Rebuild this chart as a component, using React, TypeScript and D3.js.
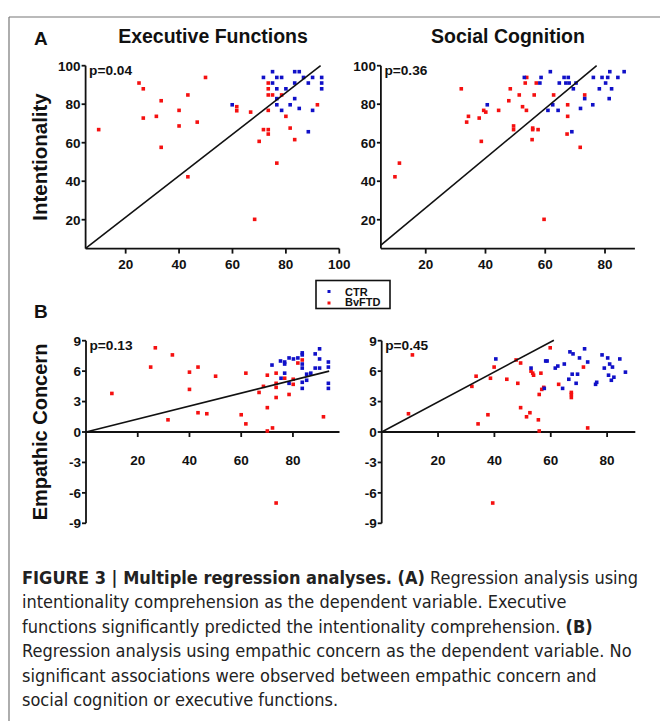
import React from "react";
import * as d3 from "d3";

type P = [number, number];

// Panel A, Executive Functions vs Intentionality
const aExecCTR: P[] = [[59.9,79.7],[71.6,93.9],[75,96.9],[75,91],[76.6,93.9],[78.4,93.9],[76.6,88],[76.6,82.9],[76.6,79.7],[78.4,76.8],[80,88],[81.6,79.7],[83.3,96.9],[85,96.9],[83.3,91],[83.3,82.9],[85,77.8],[86.6,93.9],[88.4,91],[88.4,65.7],[90,93.9],[90,76.8],[93.4,93.9],[93.4,91],[93.4,88]];
const aExecBv: P[] = [[9.9,66.8],[25,91],[26.6,88],[26.6,72.8],[31.5,73.7],[33.3,81.8],[33.3,57.6],[40,76.8],[40,68.7],[43.3,84.8],[43.3,42.3],[46.8,70.7],[49.9,93.9],[61.6,78.7],[61.6,76.6],[66.8,75.9],[68.3,20.2],[70,60.7],[71.6,66.8],[73.4,91],[73.4,88],[73.4,84.8],[73.4,76.8],[73.4,66.8],[73.4,64.5],[75,84.8],[76.6,49.4],[78.4,84.8],[80,73.7],[81.6,67.6],[83.3,61.6],[91.8,79.7]];
// Panel A, Social Cognition vs Intentionality
const aSocCTR: P[] = [[40.6,79.7],[53,93.9],[58.6,93.9],[58.2,91],[61.7,96.9],[60.9,76.8],[62.5,79.7],[64.3,76.8],[64.7,91],[66.3,93.9],[67.7,93.9],[66.9,91],[68,91],[68.9,65.7],[69.4,88],[70.3,91],[71.8,77.8],[73.2,82.9],[75.9,79.7],[76.1,93.9],[78.1,88],[79,93.9],[80.2,91],[80.9,93.9],[81.6,96.9],[81.4,82.9],[82.2,88],[84.3,93.9],[86.4,96.9]];
const aSocBv: P[] = [[9.7,42.3],[11.2,49.4],[31.9,88],[33.7,70.7],[34.3,73.7],[37.9,72.8],[38.6,60.7],[39.4,76.8],[40.1,75.9],[44.4,76.8],[47.8,81.8],[48.3,88],[49.4,68.7],[49.4,66.8],[51.3,84.8],[52.4,78.7],[53.3,91],[53.8,93.9],[53.7,76.8],[55.8,67.6],[55.8,66.8],[55.6,61.6],[56.3,84.8],[57,91],[57.6,66.8],[59.6,20.2],[62.8,84.8],[67.5,79.7],[67.5,73.7],[67.3,64.5],[71.7,57.6],[73.2,84.8]];
// Panel B, Executive Functions vs Empathic Concern
const bExecCTR: P[] = [[71.9,6.6],[75.2,7.0],[76.8,6.9],[76.8,6.7],[76.8,5.8],[75.4,5.3],[78.5,7.3],[78.5,4.8],[80.2,7.2],[81.9,7.3],[83.6,7.8],[83.6,7.6],[83.6,6.7],[83.6,6.3],[83.6,4.9],[83.6,4.3],[85.3,5.7],[85.3,5.1],[86.9,5.8],[88.6,7.7],[88.6,6.3],[90.3,8.2],[90.3,7.2],[90.3,6.3],[93.7,6.9],[93.7,6.4],[93.7,4.8],[93.7,4.3]];
const bExecBv: P[] = [[10,3.8],[25,6.4],[26.8,8.3],[31.7,1.2],[33.4,7.6],[40,5.9],[40,4.2],[43.3,6.4],[43.3,1.9],[46.7,1.8],[50.1,5.5],[60,1.7],[61.8,5.8],[61.8,0.8],[66.9,3.9],[68.6,4.5],[70.1,5.6],[70.1,2.4],[70.1,0.1],[72.1,0.4],[73.5,5.8],[73.5,4.8],[73.5,4.4],[73.5,3.4],[73.5,-7.0],[76.8,5.3],[78.5,3.7],[80.1,5.2],[80.1,4.7],[81.9,6.8],[83.6,7.1],[91.8,1.5]];
// Panel B, Social Cognition vs Empathic Concern
const bSocCTR: P[] = [[40.5,7.2],[53,6.3],[58.2,7.0],[58.7,7.0],[57.7,4.3],[61.6,6.3],[62.5,6.5],[64.8,6.7],[64.2,4.3],[66.4,5.2],[66.8,7.9],[67.9,7.7],[67.6,5.7],[69,4.8],[69.5,5.7],[70.2,7.3],[72,8.2],[73.1,6.9],[75.9,4.7],[76.3,4.9],[78.2,7.6],[79,6.3],[80.2,7.3],[80.9,6.7],[80.5,5.6],[81.5,5.1],[81.9,6.4],[82.4,5.4],[84.5,7.2],[86.5,5.9]];
const bSocBv: P[] = [[9.5,1.8],[10.9,7.6],[32,4.5],[33.5,5.5],[34.2,0.8],[37.7,1.7],[38.6,5.3],[39.9,6.4],[39.4,-7.0],[44.4,5.2],[47.7,7.1],[48.3,4.8],[49.3,6.8],[49.3,2.4],[51.4,1.5],[52.6,1.9],[53,6.0],[53.6,5.8],[53.9,5.6],[55.6,1.2],[55.9,3.7],[55.9,0.1],[56.5,5.8],[56.8,4.2],[57.5,4.4],[59.8,8.3],[62.8,4.7],[67.3,3.9],[67.3,3.7],[67.3,3.4],[71.6,6.4],[73.1,0.4]];

const fitAExec: P[] = [[5, 5.1], [93, 100]];
const fitASoc: P[] = [[5, 6.8], [77.2, 100]];
const fitBExec: P[] = [[0, 0], [94, 6.0]];
const fitBSoc: P[] = [[0, 0], [61.1, 9.05]];

const pValues = ["p=0.04", "p=0.36", "p=0.13", "p=0.45"];
const ticksAX1 = [20, 40, 60, 80, 100];
const ticksAX2 = [20, 40, 60, 80];
const ticksAY = [20, 40, 60, 80, 100];
const ticksBX = [20, 40, 60, 80];
const ticksBY = [-9, -6, -3, 0, 3, 6, 9];
const legendLabels = ["CTR", "BvFTD"];

const BLUE = "#1010c8";
const RED = "#f51010";
const FONT = "'Liberation Sans', Arial, sans-serif";

interface PanelProps {
  xs: d3.ScaleLinear<number, number>;
  ys: d3.ScaleLinear<number, number>;
  xTicks: number[];
  yTicks: number[];
  ctr: P[];
  bv: P[];
  fit: P[];
  p: string;
  xAxisAt: number;
  xLabelOffset: number;
}

function Panel({ xs, ys, xTicks, yTicks, ctr, bv, fit, p, xAxisAt, xLabelOffset }: PanelProps) {
  const [x0, x1] = xs.range();
  const [yb, yt] = ys.range();
  const ax = ys(xAxisAt);
  const line = d3.line<P>().x((d) => xs(d[0])).y((d) => ys(d[1]));
  const s = 3.6;
  return (
    <g>
      <line x1={x0} x2={x0} y1={yb} y2={yt} stroke="#111" strokeWidth={1.8} />
      {yTicks.map((t) => (
        <g key={"y" + t}>
          <line x1={x0 - 4} x2={x0} y1={ys(t)} y2={ys(t)} stroke="#111" strokeWidth={1.8} />
          <text x={x0 - 5} y={ys(t) + 4.8} textAnchor="end" fontFamily={FONT} fontWeight="bold" fontSize={13.5} fill="#111">{t}</text>
        </g>
      ))}
      <line x1={x0} x2={x1} y1={ax} y2={ax} stroke="#111" strokeWidth={1.8} />
      {xTicks.map((t) => (
        <g key={"x" + t}>
          <line x1={xs(t)} x2={xs(t)} y1={ax} y2={ax + 5} stroke="#111" strokeWidth={1.8} />
          <text x={xs(t)} y={ax + xLabelOffset} textAnchor="middle" fontFamily={FONT} fontWeight="bold" fontSize={13.5} fill="#111">{t}</text>
        </g>
      ))}
      {bv.map((d, i) => (
        <rect key={"r" + i} x={xs(d[0]) - s / 2} y={ys(d[1]) - s / 2} width={s} height={s} fill={RED} />
      ))}
      {ctr.map((d, i) => (
        <rect key={"b" + i} x={xs(d[0]) - s / 2} y={ys(d[1]) - s / 2} width={s} height={s} fill={BLUE} />
      ))}
      <path d={line(fit) || ""} stroke="#111" strokeWidth={1.6} fill="none" />
      <text x={x0 + 3.5} y={yt + 9} fontFamily={FONT} fontWeight="bold" fontSize={13.7} fill="#111">{p}</text>
    </g>
  );
}

export default function App() {
  const yA = d3.scaleLinear().domain([5, 100]).range([248.6, 65.7]);
  const xA1 = d3.scaleLinear().domain([5, 100]).range([85.6, 339.3]);
  const xA2 = d3.scaleLinear().domain([5, 90]).range([380.9, 634.9]);
  const yB = d3.scaleLinear().domain([-9, 9]).range([523.3, 340.7]);
  const xB1 = d3.scaleLinear().domain([0, 98]).range([86, 339.5]);
  const xB2 = d3.scaleLinear().domain([0, 90]).range([381.7, 635.3]);

  const capFont = "'Liberation Sans Narrow', 'Arial Narrow', 'DejaVu Sans Condensed', sans-serif";
  const capLines: { b?: string; t: string; b2?: string }[] = [
    { b: "FIGURE 3 | Multiple regression analyses. (A)", t: " Regression analysis using" },
    { t: "intentionality comprehension as the dependent variable. Executive" },
    { t: "functions significantly predicted the intentionality comprehension. ", b2: "(B)" },
    { t: "Regression analysis using empathic concern as the dependent variable. No" },
    { t: "significant associations were observed between empathic concern and" },
    { t: "social cognition or executive functions." },
  ];

  return (
    <svg width={660} height={721} style={{ position: "absolute", left: 0, top: 0, background: "#fff" }}>
      <rect x={0} y={0} width={660} height={721} fill="#fff" />
      <line x1={9} x2={9} y1={17} y2={721} stroke="#777" strokeWidth={1.2} />
      <line x1={9} x2={660} y1={17} y2={17} stroke="#777" strokeWidth={1.2} />

      <text x={34} y={45} fontFamily={FONT} fontWeight="bold" fontSize={19} fill="#111">A</text>
      <text x={34} y={318} fontFamily={FONT} fontWeight="bold" fontSize={19} fill="#111">B</text>
      <text x={213} y={43} textAnchor="middle" fontFamily={FONT} fontWeight="bold" fontSize={19.5} fill="#111">Executive Functions</text>
      <text x={508} y={43} textAnchor="middle" fontFamily={FONT} fontWeight="bold" fontSize={19.5} fill="#111">Social Cognition</text>

      <text transform="translate(47,157) rotate(-90)" textAnchor="middle" fontFamily={FONT} fontWeight="bold" fontSize={20.5} fill="#111">Intentionality</text>
      <text transform="translate(47,432) rotate(-90)" textAnchor="middle" fontFamily={FONT} fontWeight="bold" fontSize={20} fill="#111">Empathic Concern</text>

      <Panel xs={xA1} ys={yA} xTicks={ticksAX1} yTicks={ticksAY} ctr={aExecCTR} bv={aExecBv} fit={fitAExec} p={pValues[0]} xAxisAt={5} xLabelOffset={20} />
      <Panel xs={xA2} ys={yA} xTicks={ticksAX2} yTicks={ticksAY} ctr={aSocCTR} bv={aSocBv} fit={fitASoc} p={pValues[1]} xAxisAt={5} xLabelOffset={20} />
      <Panel xs={xB1} ys={yB} xTicks={ticksBX} yTicks={ticksBY} ctr={bExecCTR} bv={bExecBv} fit={fitBExec} p={pValues[2]} xAxisAt={0} xLabelOffset={33} />
      <Panel xs={xB2} ys={yB} xTicks={ticksBX} yTicks={ticksBY} ctr={bSocCTR} bv={bSocBv} fit={fitBSoc} p={pValues[3]} xAxisAt={0} xLabelOffset={33} />

      <rect x={316} y={280.5} width={74} height={28} fill="#fff" stroke="#111" strokeWidth={1.6} />
      <rect x={327.5} y={290} width={3} height={3} fill={BLUE} />
      <rect x={327.5} y={301.5} width={3} height={3} fill={RED} />
      <text x={345} y={295.5} fontFamily={FONT} fontWeight="bold" fontSize={11} fill="#111">{legendLabels[0]}</text>
      <text x={345} y={306.2} fontFamily={FONT} fontWeight="bold" fontSize={11} fill="#111">{legendLabels[1]}</text>

      {capLines.map((l, i) => (
        <text key={i} x={22} y={584 + i * 24.4} fontFamily={capFont} fontSize={18} fill="#222">
          {l.b ? <tspan fontWeight="bold">{l.b}</tspan> : null}
          <tspan>{l.t}</tspan>
          {l.b2 ? <tspan fontWeight="bold">{l.b2}</tspan> : null}
        </text>
      ))}
    </svg>
  );
}
